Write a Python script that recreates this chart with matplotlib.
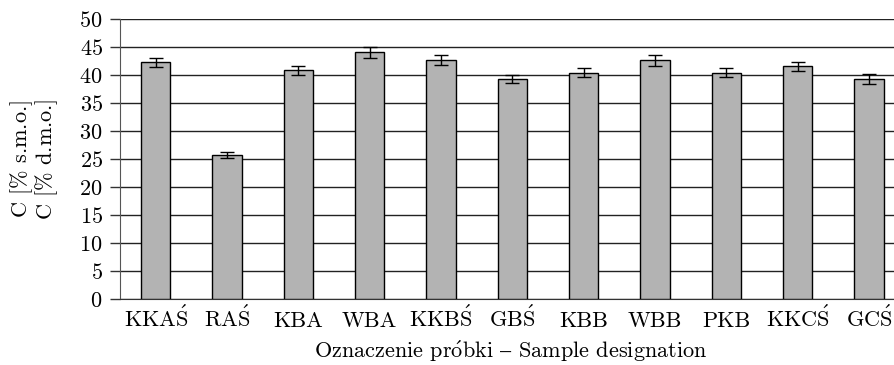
import matplotlib
matplotlib.use("Agg")
import matplotlib.pyplot as plt
import numpy as np

plt.rcParams["font.family"] = ["cmr10", "DejaVu Serif"]
plt.rcParams["mathtext.fontset"] = "cm"
plt.rcParams["axes.formatter.use_mathtext"] = True

samples = [r"KKA$\acute{\mathrm{S}}$", r"RA$\acute{\mathrm{S}}$", "KBA", "WBA",
           r"KKB$\acute{\mathrm{S}}$", r"GB$\acute{\mathrm{S}}$", "KBB", "WBB",
           "PKB", r"KKC$\acute{\mathrm{S}}$", r"GC$\acute{\mathrm{S}}$"]
carbon = [42.3, 25.8, 40.9, 44.1, 42.7, 39.3, 40.5, 42.7, 40.5, 41.6, 39.3]
carbon_err = [0.8, 0.5, 0.8, 0.95, 0.85, 0.75, 0.85, 0.95, 0.85, 0.85, 0.9]
yticks = [0, 5, 10, 15, 20, 25, 30, 35, 40, 45, 50]

FS = 16
W, H = 895, 365

fig = plt.figure(figsize=(W / 100, H / 100), dpi=100)
ax = fig.add_axes([120 / W, 1 - 299.3 / H, 784.7 / W, 280 / H])

x = np.arange(len(samples))
ax.bar(x, carbon, width=0.41, color="#b3b3b3", edgecolor="black", linewidth=1.0, zorder=3,
       yerr=carbon_err, error_kw=dict(ecolor="black", elinewidth=1.0, capsize=5, capthick=1.0))

ax.set_xlim(-0.5, len(samples) - 0.5)
ax.set_ylim(0, 50)
ax.set_yticks(yticks)
ax.set_xticks(x)
ax.set_xticklabels(samples, va="baseline")
ax.yaxis.grid(True, color="#222222", linewidth=1.0, zorder=0)
ax.set_axisbelow(True)

for side in ["top", "right"]:
    ax.spines[side].set_visible(False)
ax.spines["left"].set_color("#555555")
ax.spines["bottom"].set_color("#333333")
ax.tick_params(axis="y", length=7, width=1.0, color="#333333", labelsize=FS, pad=5.5)
# baseline-aligned category labels so accented names sit on the same line
ax.tick_params(axis="x", length=0, labelsize=FS, pad=20)

fig.text(510.5 / W, 1 - 358.5 / H, "Oznaczenie pr$\\acute{\\mathrm{o}}$bki $\u2013$ Sample designation",
         ha="center", va="baseline", fontsize=FS)
ymid = 0.5 * (1 - 299.3 / H + 1 - 19.3 / H)
fig.text(22 / W, ymid, r"C [$\%$ s.m.o.]", rotation=90, ha="center", va="center", fontsize=FS)
fig.text(47 / W, ymid, r"C [$\%$ d.m.o.]", rotation=90, ha="center", va="center", fontsize=FS)

fig.savefig("out.png", dpi=100)
